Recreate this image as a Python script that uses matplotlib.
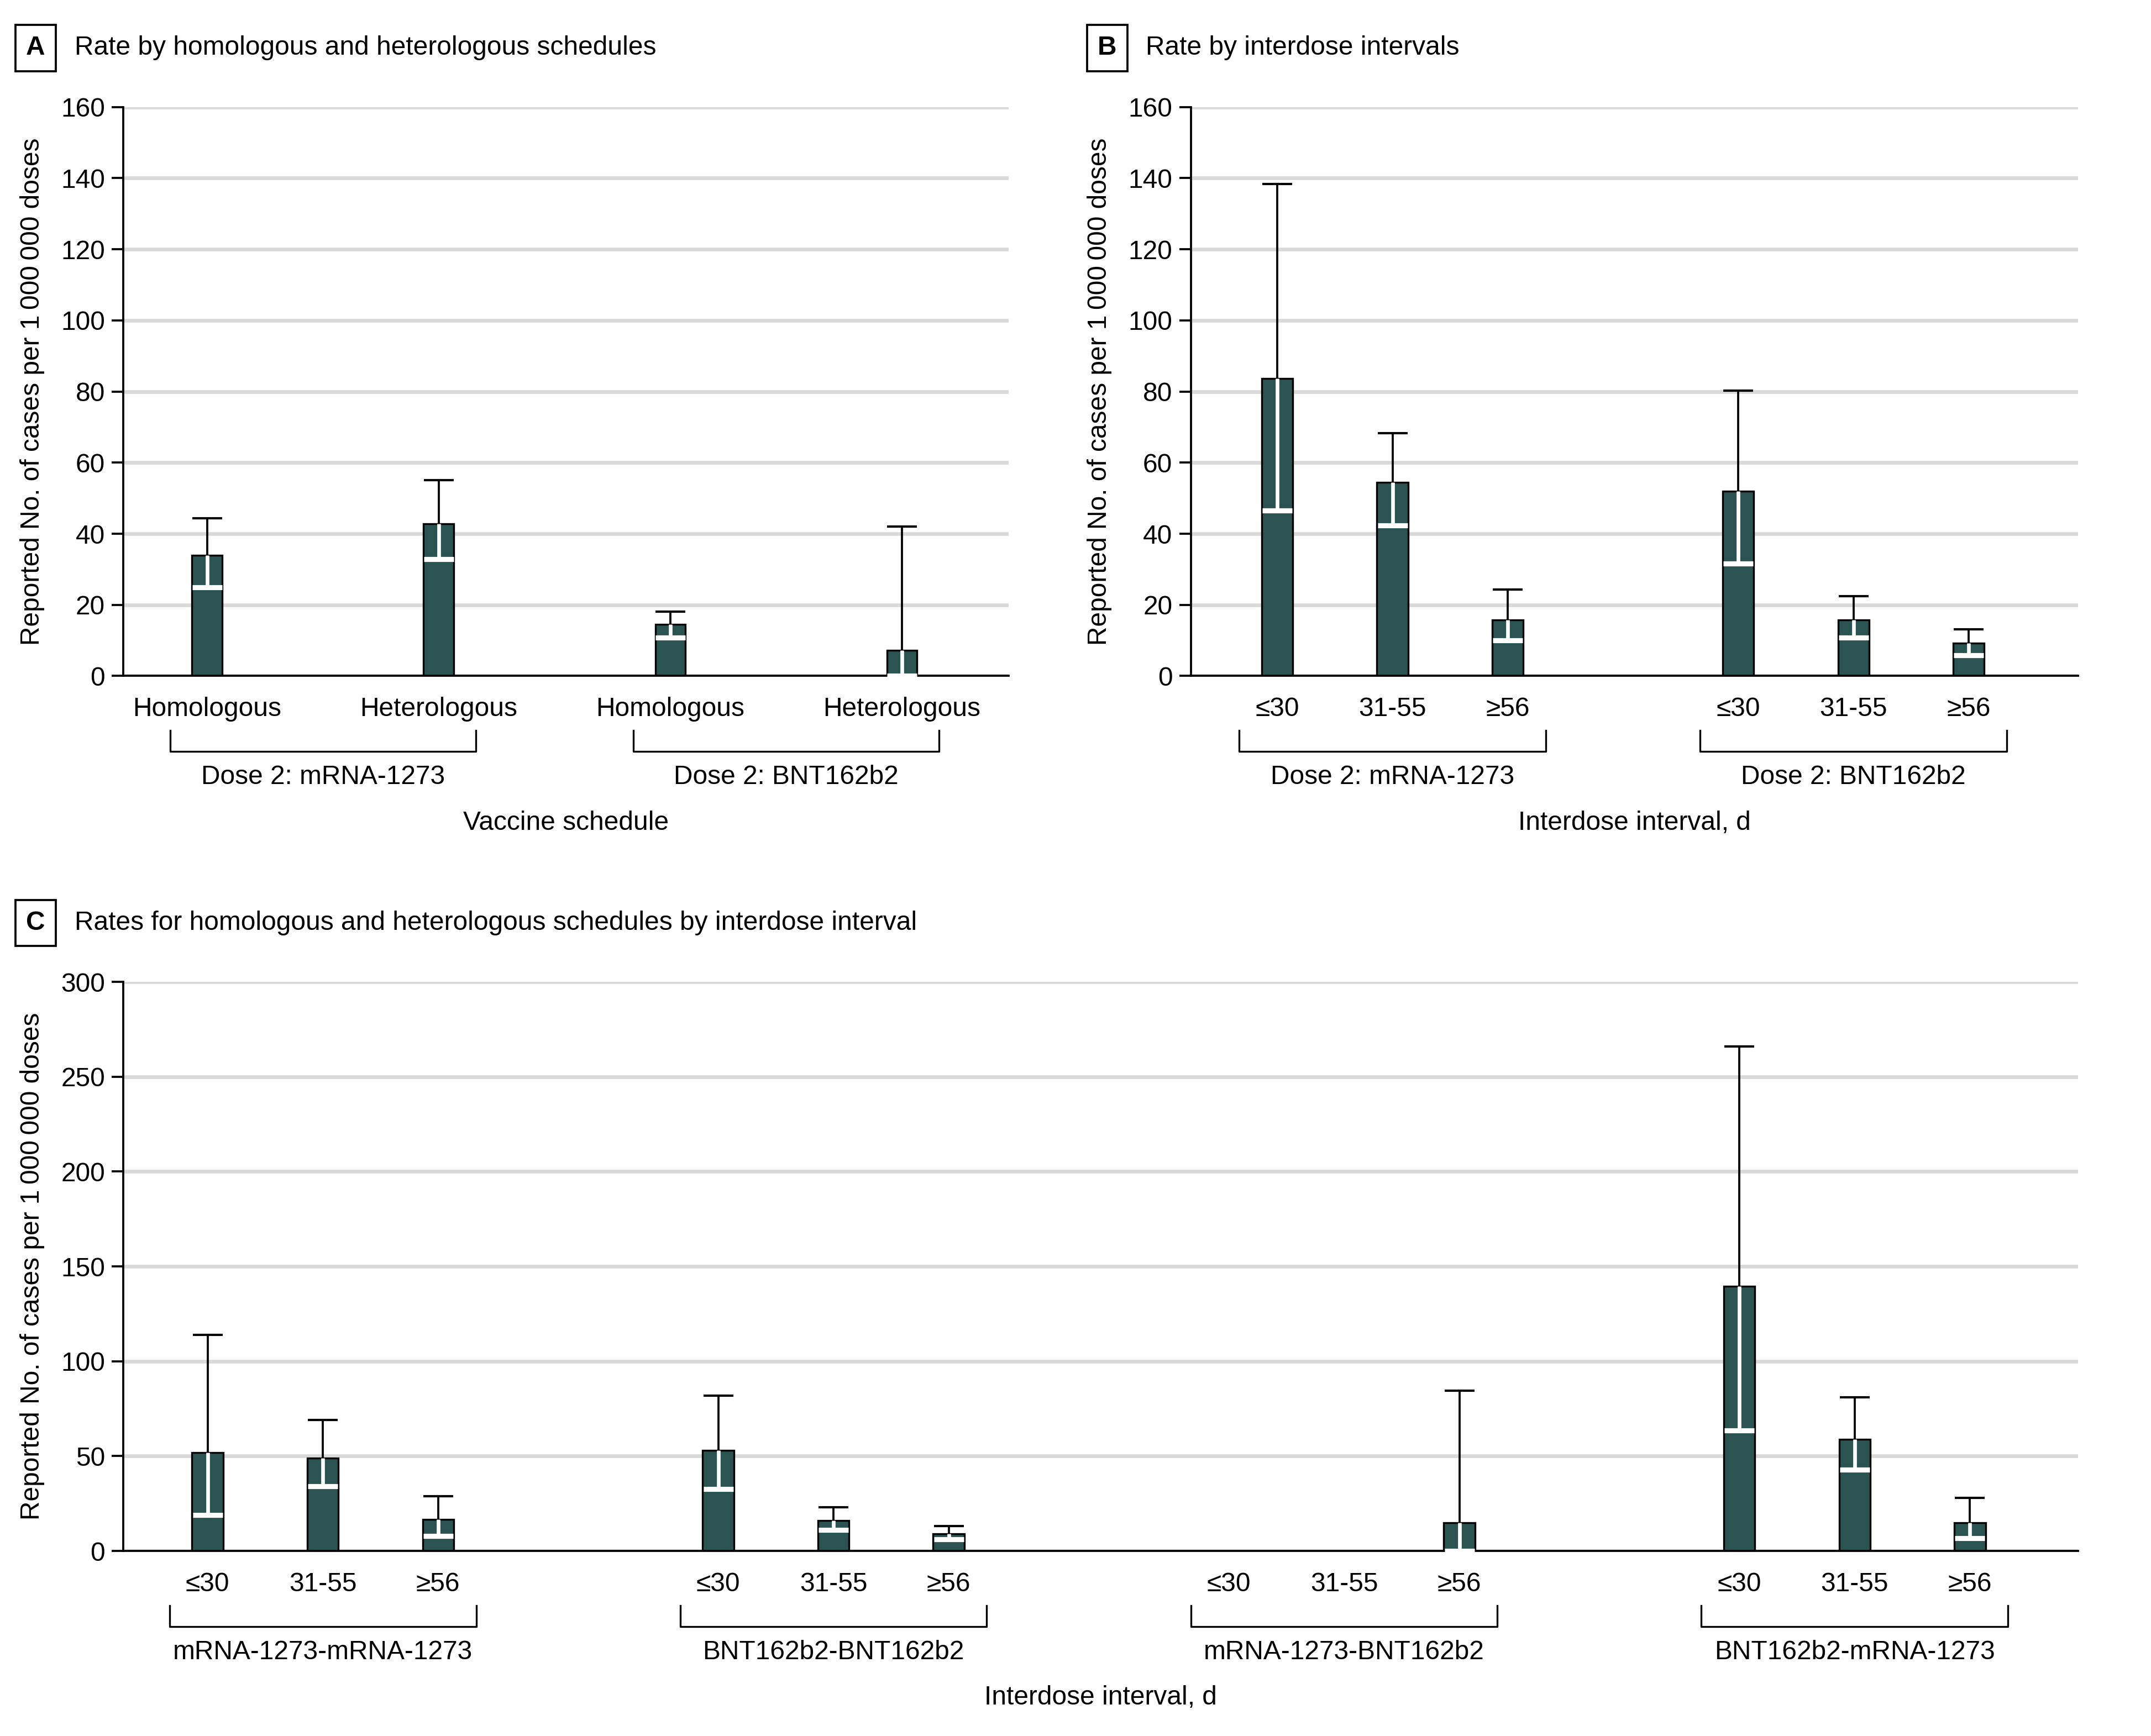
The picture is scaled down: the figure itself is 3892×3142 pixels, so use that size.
import numpy as np
import matplotlib
matplotlib.use("Agg")
from matplotlib import pyplot as plt

plt.rcParams["font.family"] = ["Liberation Sans Narrow", "DejaVu Sans Condensed", "Liberation Sans", "DejaVu Sans"]
plt.rcParams["font.size"] = 11.5

BAR = "#2a5351"
GRID = "#d9d9d9"

# panel A: rate by schedule
a_labels = ["Homologous", "Heterologous", "Homologous", "Heterologous"]
a_groups = ["Dose 2: mRNA-1273", "Dose 2: BNT162b2"]
a_rate = [34.0, 42.8, 14.6, 7.3]
a_lo = [25.0, 32.8, 10.8, 0.0]
a_hi = [44.3, 55.0, 18.1, 42.0]

# panel B: rate by interdose interval
intervals = ["≤30", "31-55", "≥56"]
b_groups = ["Dose 2: mRNA-1273", "Dose 2: BNT162b2"]
b_rate = [83.7, 54.4, 15.8, 52.0, 15.8, 9.3]
b_lo = [46.6, 42.4, 10.0, 31.6, 10.8, 5.8]
b_hi = [138.4, 68.2, 24.3, 80.2, 22.4, 13.1]

# panel C: schedules by interval
c_groups = ["mRNA-1273-mRNA-1273", "BNT162b2-BNT162b2", "mRNA-1273-BNT162b2", "BNT162b2-mRNA-1273"]
c_rate = [52, 49, 16.6, 53, 16, 9, np.nan, np.nan, 15, 139.5, 59, 15]
c_lo = [19, 34, 8, 32.5, 11, 6, np.nan, np.nan, 0, 63.6, 42.7, 6.8]
c_hi = [114, 69, 29, 82, 23, 13, np.nan, np.nan, 84.6, 266, 81, 28]

ylabel = "Reported No. of cases per 1\u2009000\u2009000 doses"


def draw_bars(ax, x, rate, lo, hi, width):
    x = np.asarray(x, float)
    rate, lo, hi = (np.asarray(v, float) for v in (rate, lo, hi))
    ok = ~np.isnan(rate)
    ax.bar(x[ok], rate[ok], width=width, color=BAR, edgecolor="black", linewidth=0.8, zorder=3)
    # upper CI in black above the bar, lower CI in white inside it
    ax.vlines(x[ok], rate[ok], hi[ok], color="black", linewidth=0.9, zorder=4)
    ax.plot(x[ok], hi[ok], ls="none", marker="_", ms=13, mew=1.0, color="black", zorder=4)
    ax.vlines(x[ok], lo[ok], rate[ok], color="white", linewidth=1.6, zorder=5)
    ax.plot(x[ok], lo[ok], ls="none", marker="_", ms=13, mew=2.2, color="white", zorder=5, clip_on=False)


def style(ax, ymax, step, xlim):
    ax.set_ylim(0, ymax)
    ax.set_xlim(*xlim)
    ax.set_yticks(np.arange(0, ymax + 1, step))
    ax.yaxis.grid(True, color=GRID, linewidth=1.6, zorder=0)
    ax.set_axisbelow(True)
    for s in ("top", "right"):
        ax.spines[s].set_visible(False)
    ax.spines["left"].set_linewidth(0.9)
    ax.spines["bottom"].set_linewidth(0.9)
    ax.spines["bottom"].set_zorder(4)
    ax.tick_params(axis="y", length=5, width=0.9, pad=3)
    ax.tick_params(axis="x", length=0, pad=9)
    ax.set_ylabel(ylabel, labelpad=7)


def brackets(ax, spans, names, pad):
    tr = ax.get_xaxis_transform()
    for (x0, x1), name in zip(spans, names):
        ax.plot([x0 - pad, x0 - pad, x1 + pad, x1 + pad], [-0.096, -0.1325, -0.1325, -0.096],
                color="black", linewidth=0.8, transform=tr, clip_on=False)
        ax.text((x0 + x1) / 2, -0.178, name, transform=tr, ha="center", va="center")


def panel_title(fig, x, y, letter, title):
    fig.text(x, y, letter, fontweight="bold", ha="center", va="center",
             bbox=dict(boxstyle="square,pad=0.4", fc="white", ec="black", lw=0.9))
    fig.text(x + 0.018, y, title, ha="left", va="center")


fig = plt.figure(figsize=(3892 / 300, 3142 / 300), dpi=300)

axA = fig.add_axes([0.0574, 0.6106, 0.4114, 0.3278])
axB = fig.add_axes([0.5536, 0.6106, 0.4126, 0.3278])
axC = fig.add_axes([0.0574, 0.1066, 0.9088, 0.3278])

# A
xa = np.arange(len(a_labels))
style(axA, 160, 20, (-0.361, 3.46))
draw_bars(axA, xa, a_rate, a_lo, a_hi, 0.13)
axA.set_xticks(xa, a_labels)
brackets(axA, [(0, 1), (2, 3)], a_groups, 0.16)
axA.text(0.5, -0.258, "Vaccine schedule", transform=axA.transAxes, ha="center", va="center")

# B
xb = np.array([0, 1, 2, 4, 5, 6])
style(axB, 160, 20, (-0.75, 6.95))
draw_bars(axB, xb, b_rate, b_lo, b_hi, 0.27)
axB.set_xticks(xb, intervals * 2)
brackets(axB, [(0, 2), (4, 6)], b_groups, 0.33)
axB.text(0.5, -0.258, "Interdose interval, d", transform=axB.transAxes, ha="center", va="center")

# C
group_step = 4.43
xc = np.concatenate([g * group_step + np.arange(3) for g in range(len(c_groups))])
style(axC, 300, 50, (-0.73, 16.23))
draw_bars(axC, xc, c_rate, c_lo, c_hi, 0.27)
axC.set_xticks(xc, intervals * len(c_groups))
brackets(axC, [(g * group_step, g * group_step + 2) for g in range(len(c_groups))], c_groups, 0.33)
axC.text(0.5, -0.258, "Interdose interval, d", transform=axC.transAxes, ha="center", va="center")

panel_title(fig, 0.0166, 1 - 35 / 1266, "A", "Rate by homologous and heterologous schedules")
panel_title(fig, 0.5147, 1 - 35 / 1266, "B", "Rate by interdose intervals")
panel_title(fig, 0.0166, 1 - 673 / 1266, "C", "Rates for homologous and heterologous schedules by interdose interval")

fig.savefig("out.png", dpi=300, facecolor="white")
